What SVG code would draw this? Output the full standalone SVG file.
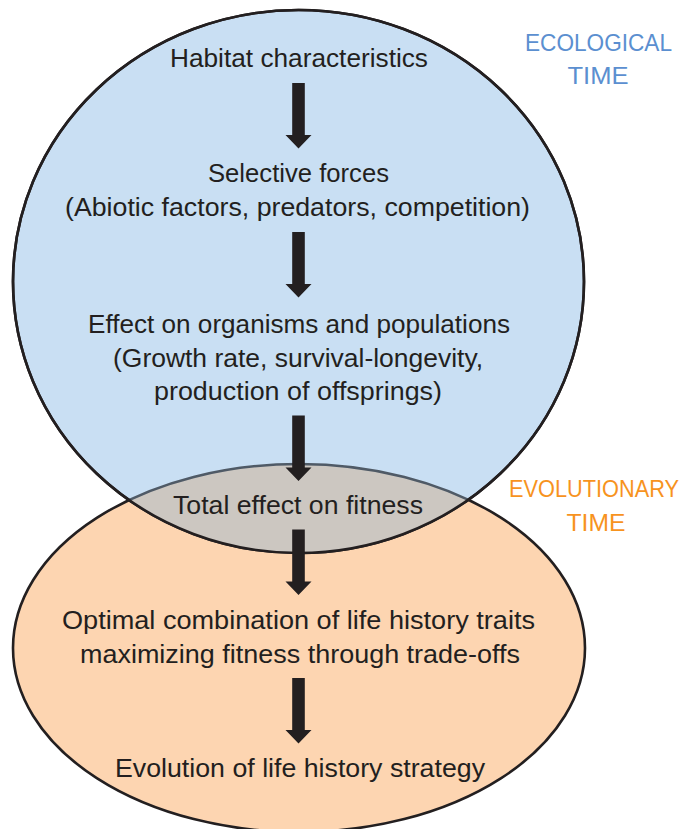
<svg xmlns="http://www.w3.org/2000/svg" xmlns:xlink="http://www.w3.org/1999/xlink" width="693" height="829" viewBox="0 0 693 829">
<style>
.t{font-family:"Liberation Sans",Arial,sans-serif;font-size:25px;fill:#231f20;text-anchor:middle}
.eco{font-family:"Liberation Sans",Arial,sans-serif;font-size:24px;fill:#5b8fd0;text-anchor:middle}
.evo{font-family:"Liberation Sans",Arial,sans-serif;font-size:23px;fill:#f7931e;text-anchor:middle}
.edge{fill:none;stroke:#231f20;stroke-width:2.6}
</style>
<defs>
<clipPath id="inCircle"><ellipse cx="298.5" cy="281.5" rx="285.5" ry="271.5"/></clipPath>
<path id="arr" d="M-6.3,0 H6.3 V52 H13 L0,65.5 L-13,52 H-6.3 Z" fill="#231f20"/>
</defs>
<g id="evolutionary-time">
<ellipse cx="299" cy="648" rx="286" ry="184" style="fill:#fdd5b1;stroke:#231f20;stroke-width:2.6"/>
</g>
<g id="ecological-time">
<ellipse cx="298.5" cy="281.5" rx="285.5" ry="271.5" style="fill:#c9dff3;stroke:#231f20;stroke-width:2.6"/>
</g>
<g id="overlap">
<ellipse cx="299" cy="648" rx="286" ry="184" clip-path="url(#inCircle)" style="fill:#ccc7c1;stroke:#4f5a66;stroke-width:2.6"/>
<ellipse cx="298.5" cy="281.5" rx="285.5" ry="271.5" class="edge"/>
</g>
<g id="connectors">
<use xlink:href="#arr" transform="translate(298.5,83)"/>
<use xlink:href="#arr" transform="translate(298.5,232)"/>
<use xlink:href="#arr" transform="translate(298.5,415.5)"/>
<use xlink:href="#arr" transform="translate(298.5,529.5)"/>
<use xlink:href="#arr" transform="translate(298.5,678)"/>
</g>
<g id="habitat"><text class="t" x="299" y="67" textLength="258" lengthAdjust="spacingAndGlyphs">Habitat characteristics</text></g>
<g id="selective-forces">
<text class="t" x="298.5" y="182" textLength="181" lengthAdjust="spacingAndGlyphs">Selective forces</text>
<text class="t" x="297.5" y="215.5" textLength="465" lengthAdjust="spacingAndGlyphs">(Abiotic factors, predators, competition)</text>
</g>
<g id="effect">
<text class="t" x="299" y="333" textLength="422" lengthAdjust="spacingAndGlyphs">Effect on organisms and populations</text>
<text class="t" x="298" y="366.5" textLength="370" lengthAdjust="spacingAndGlyphs">(Growth rate, survival-longevity,</text>
<text class="t" x="298" y="400" textLength="288" lengthAdjust="spacingAndGlyphs">production of offsprings)</text>
</g>
<g id="total-effect"><text class="t" x="298" y="514" textLength="250" lengthAdjust="spacingAndGlyphs">Total effect on fitness</text></g>
<g id="optimal">
<text class="t" x="298.5" y="629" textLength="473" lengthAdjust="spacingAndGlyphs">Optimal combination of life history traits</text>
<text class="t" x="300" y="662.5" textLength="440" lengthAdjust="spacingAndGlyphs">maximizing fitness through trade-offs</text>
</g>
<g id="evolution"><text class="t" x="300" y="776.5" textLength="370" lengthAdjust="spacingAndGlyphs">Evolution of life history strategy</text></g>
<g id="label-ecological">
<text class="eco" x="598.5" y="51" textLength="147" lengthAdjust="spacingAndGlyphs">ECOLOGICAL</text>
<text class="eco" x="598" y="84" textLength="61" lengthAdjust="spacingAndGlyphs">TIME</text>
</g>
<g id="label-evolutionary">
<text class="evo" x="594" y="497" textLength="170" lengthAdjust="spacingAndGlyphs">EVOLUTIONARY</text>
<text class="evo" x="596" y="531" textLength="59" lengthAdjust="spacingAndGlyphs">TIME</text>
</g>
</svg>
